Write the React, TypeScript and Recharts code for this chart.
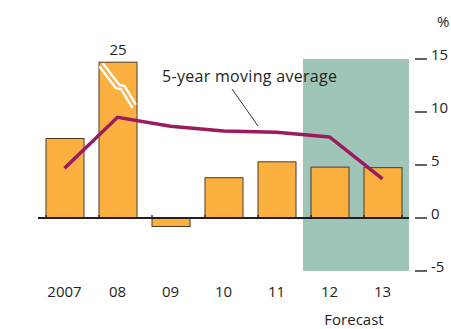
import React from 'react';
import {
  ComposedChart,
  Bar,
  Line,
  XAxis,
  YAxis,
  ReferenceArea,
  ReferenceLine,
} from 'recharts';

const years = ['2007', '08', '09', '10', '11', '12', '13'];
const growth = [7.5, 25, -0.8, 3.8, 5.3, 4.8, 4.75];
const movingAvg = [4.7, 9.5, 8.65, 8.2, 8.1, 7.65, 3.7];
const forecastYears = ['12', '13'];
const rightTicks = [-5, 0, 5, 10, 15];
const leftTicks = [-5, 0, 5, 10];
const AXIS_MIN = -5;
const AXIS_MAX = 15;
const BREAK_TOP = 14.7; // bars above the axis are drawn broken at this level

const FONT = '"Open Sans", "Noto Sans", sans-serif';
const INK = '#231f20';
const BAR = '#fbb040';
const BAR_EDGE = '#4d3b28';
const AVG = '#9b1b5f';
const SHADE = '#9fc5b9';

const data = years.map((year, i) => ({
  year,
  shown: Math.min(growth[i], BREAK_TOP),
  actual: growth[i],
  avg: movingAvg[i],
}));

function BarShape(props: any) {
  const { x, y, width, height, payload, index, background } = props;
  const top = Math.min(y, y + height);
  const h = Math.abs(height);
  const zeroY = payload.actual >= 0 ? top + h : top;
  const broken = payload.actual > AXIS_MAX;
  const bandX = background ? background.x : x - 7;
  const bandW = background ? background.width : width + 14;
  const zig = (dx: number, dy: number) =>
    [[1, 5], [17, 26], [22, 27], [33, 45]].map(([a, b]) => `${x + a + dx},${top + b + dy}`).join(' ');
  return (
    <g>
      <rect x={x} y={top} width={width} height={h} fill={BAR} stroke={BAR_EDGE} strokeWidth={1} />
      {broken && (
        <g stroke="#fff" strokeWidth={2.4} fill="none" strokeLinejoin="round" strokeLinecap="round">
          <polyline points={zig(0, 0)} />
          <polyline points={zig(3.4, -3.2)} />
        </g>
      )}
      {broken && (
        <text x={x + width / 2} y={top - 7} textAnchor="middle" fontSize={15} fill={INK} fontFamily={FONT}>
          {payload.actual}
        </text>
      )}
      <line x1={bandX} x2={bandX} y1={zeroY - 3} y2={zeroY} stroke={INK} strokeWidth={1.3} />
      {index === years.length - 1 && (
        <line x1={bandX + bandW} x2={bandX + bandW} y1={zeroY - 3} y2={zeroY} stroke={INK} strokeWidth={1.3} />
      )}
    </g>
  );
}

function LeftTick(props: any) {
  const { y } = props;
  return <line x1={17} x2={31} y1={y} y2={y} stroke={INK} strokeWidth={1.4} />;
}

function RightTick(props: any) {
  const { y, payload } = props;
  return (
    <g>
      <line x1={415} x2={427} y1={y} y2={y} stroke={INK} strokeWidth={1.4} />
      <text x={431} y={y + 1} fontSize={15} fill={INK} fontFamily={FONT}>
        {payload.value}
      </text>
    </g>
  );
}

function YearTick(props: any) {
  const { x, payload } = props;
  return (
    <text x={x} y={297} textAnchor="middle" fontSize={15} fill={INK} fontFamily={FONT}>
      {payload.value}
    </text>
  );
}

function ForecastLabel(props: any) {
  const { viewBox } = props;
  return (
    <text
      x={viewBox.x + viewBox.width / 2 - 2}
      y={viewBox.y + viewBox.height + 54}
      textAnchor="middle"
      fontSize={15}
      fill={INK}
      fontFamily={FONT}
    >
      Forecast
    </text>
  );
}

export default function App() {
  return (
    <div style={{ position: 'absolute', left: 0, top: 0, width: 451, height: 329, background: '#fff' }}>
      <ComposedChart
        width={451}
        height={329}
        data={data}
        margin={{ top: 59, right: 0, bottom: 0, left: 0 }}
        barSize={38}
      >
        <XAxis
          dataKey="year"
          height={58}
          axisLine={false}
          tickLine={false}
          tick={<YearTick />}
          interval={0}
        />
        <YAxis
          yAxisId="left"
          orientation="left"
          width={38}
          domain={[AXIS_MIN, AXIS_MAX]}
          ticks={leftTicks}
          axisLine={false}
          tickLine={false}
          tick={<LeftTick />}
        />
        <YAxis
          yAxisId="right"
          orientation="right"
          width={42}
          domain={[AXIS_MIN, AXIS_MAX]}
          ticks={rightTicks}
          axisLine={false}
          tickLine={false}
          tick={<RightTick />}
        />
        <ReferenceArea
          yAxisId="right"
          x1={forecastYears[0]}
          x2={forecastYears[forecastYears.length - 1]}
          y1={AXIS_MIN}
          y2={AXIS_MAX}
          fill={SHADE}
          fillOpacity={1}
          stroke="none"
          label={<ForecastLabel />}
        />
        <Bar yAxisId="right" dataKey="shown" shape={<BarShape />} isAnimationActive={false} />
        <ReferenceLine yAxisId="right" y={0} stroke={INK} strokeWidth={2} />
        <Line
          yAxisId="right"
          dataKey="avg"
          type="linear"
          stroke={AVG}
          strokeWidth={3.5}
          dot={false}
          activeDot={false}
          isAnimationActive={false}
        />
      </ComposedChart>
      <svg
        width={451}
        height={329}
        style={{ position: 'absolute', left: 0, top: 0, pointerEvents: 'none' }}
      >
        <text x={437} y={27} fontSize={15} fill={INK} fontFamily={FONT}>%</text>
        <text x={162} y={82} fontSize={16} letterSpacing={0.3} fill={INK} fontFamily={FONT}>
          5-year moving average
        </text>
        <line x1={232} y1={89} x2={258} y2={126} stroke={INK} strokeWidth={0.9} />
      </svg>
    </div>
  );
}
